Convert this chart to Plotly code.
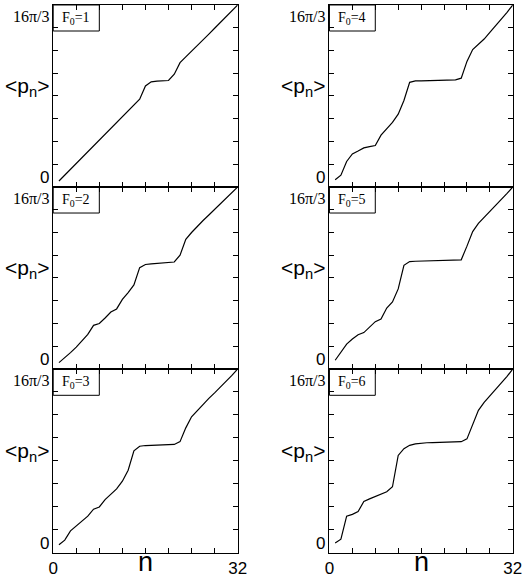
import numpy as np
import plotly.graph_objects as go
from plotly.subplots import make_subplots

# ---- data (values as fraction of 16*pi/3) ----
N = list(range(1, 33))
F0_LABELS = ["1", "2", "3", "4", "5", "6"]
P_F1 = [0.033, 0.065, 0.097, 0.128, 0.160, 0.192, 0.224, 0.253, 0.285, 0.317, 0.350, 0.385, 0.418, 0.450, 0.482, 0.555,
        0.578, 0.582, 0.583, 0.585, 0.620, 0.683, 0.715, 0.745, 0.776, 0.808, 0.840, 0.872, 0.904, 0.936, 0.968, 1.0]
P_F2 = [0.035, 0.060, 0.090, 0.120, 0.155, 0.190, 0.240, 0.250, 0.280, 0.313, 0.330, 0.382, 0.420, 0.462, 0.557, 0.574,
        0.578, 0.580, 0.582, 0.583, 0.588, 0.625, 0.712, 0.750, 0.785, 0.816, 0.846, 0.877, 0.908, 0.938, 0.969, 1.0]
P_F3 = [0.045, 0.070, 0.120, 0.145, 0.175, 0.200, 0.238, 0.250, 0.290, 0.320, 0.348, 0.390, 0.450, 0.555, 0.580, 0.584,
        0.585, 0.587, 0.588, 0.589, 0.590, 0.605, 0.680, 0.740, 0.775, 0.810, 0.840, 0.870, 0.900, 0.930, 0.965, 1.0]
P_F4 = [0.040, 0.065, 0.140, 0.182, 0.198, 0.215, 0.222, 0.228, 0.285, 0.322, 0.355, 0.400, 0.475, 0.575, 0.583, 0.583,
        0.584, 0.585, 0.586, 0.587, 0.588, 0.589, 0.598, 0.690, 0.755, 0.785, 0.813, 0.850, 0.885, 0.920, 0.960, 1.0]
P_F5 = [0.048, 0.093, 0.137, 0.165, 0.188, 0.200, 0.230, 0.260, 0.275, 0.335, 0.368, 0.440, 0.570, 0.590, 0.592, 0.593,
        0.594, 0.594, 0.595, 0.596, 0.596, 0.597, 0.600, 0.675, 0.755, 0.800, 0.832, 0.865, 0.900, 0.930, 0.965, 1.0]
P_F6 = [0.054, 0.075, 0.200, 0.210, 0.225, 0.280, 0.294, 0.307, 0.320, 0.333, 0.360, 0.530, 0.567, 0.585, 0.593, 0.597,
        0.599, 0.600, 0.601, 0.602, 0.603, 0.604, 0.605, 0.620, 0.700, 0.775, 0.818, 0.853, 0.890, 0.925, 0.960, 1.0]
SERIES = [P_F1, P_F2, P_F3, P_F4, P_F5, P_F6]
X_LABEL_TICKS = [0, 32]
X_STEP = 4
Y_MAX = 16 * np.pi / 3

fig = make_subplots(rows=3, cols=2)

XDOMS = [[0.0936, 0.4518], [0.630, 0.986]]
YDOMS = [[0.6776, 0.9914], [0.3638, 0.6776], [0.0466, 0.3638]]

SANS = "Liberation Sans, Arial, sans-serif"
SERIF = "Liberation Serif, Times New Roman, serif"

annotations = []
shapes = []
for i, (lab, vals) in enumerate(zip(F0_LABELS, SERIES)):
    col = i // 3
    row = i % 3
    idx = row * 2 + col + 1
    fig.add_trace(go.Scatter(x=N, y=[v * Y_MAX for v in vals], mode="lines",
                             line=dict(color="black", width=1.2), showlegend=False),
                  row=row + 1, col=col + 1)
    sfx = "" if idx == 1 else str(idx)
    bottom = row == 2
    fig.layout["xaxis" + sfx].update(
        domain=XDOMS[col], range=[0, 32], tickvals=X_LABEL_TICKS,
        showticklabels=bottom, ticks="inside", ticklen=5, tickcolor="black",
        minor=dict(dtick=X_STEP, tick0=0, ticks="inside", ticklen=5, tickcolor="black", showgrid=False),
        showline=True, linecolor="black", linewidth=1, mirror="ticks",
        showgrid=False, zeroline=False,
        tickfont=dict(family=SANS, size=17, color="black"))
    fig.layout["yaxis" + sfx].update(
        domain=YDOMS[row], range=[0, Y_MAX], tickvals=[k * Y_MAX / 8 for k in range(9)],
        showticklabels=False, ticks="inside", ticklen=5, tickcolor="black",
        showline=True, linecolor="black", linewidth=1, mirror="ticks",
        showgrid=False, zeroline=False)
    xd = "x" + sfx + " domain"
    yd = "y" + sfx + " domain"
    # label box
    shapes.append(dict(type="rect", xref=xd, yref=yd, x0=0, x1=0.25, y0=0.857, y1=1,
                       line=dict(color="black", width=1), fillcolor="rgba(0,0,0,0)"))
    annotations.append(dict(xref=xd, yref=yd, x=0.125, y=0.928, showarrow=False,
                            text="F<sub>0</sub>=" + lab, xanchor="center", yanchor="middle",
                            font=dict(family=SERIF, size=14, color="black")))
    # y tick labels
    annotations.append(dict(xref="paper", yref=yd, x=XDOMS[col][0], y=1, xshift=-1, yshift=-1,
                            showarrow=False, text="16π/3", xanchor="right", yanchor="top",
                            font=dict(family=SERIF, size=16, color="black")))
    annotations.append(dict(xref="paper", yref=yd, x=XDOMS[col][0], y=0, xshift=-2, yshift=-2,
                            showarrow=False, text="0", xanchor="right", yanchor="bottom",
                            font=dict(family=SANS, size=17, color="black")))
    # y axis title
    annotations.append(dict(xref="paper", yref=yd, x=XDOMS[col][0], y=0.55, xshift=-2,
                            showarrow=False, text="&lt;p<sub>n</sub>&gt;", xanchor="right",
                            yanchor="middle", font=dict(family=SANS, size=21, color="black")))
    if bottom:
        annotations.append(dict(xref="paper", yref="paper", x=(XDOMS[col][0] + XDOMS[col][1]) / 2,
                                y=0, yshift=1, showarrow=False, text="n", xanchor="center",
                                yanchor="bottom", font=dict(family=SANS, size=27, color="black")))

fig.update_layout(width=529, height=580, margin=dict(l=0, r=0, t=0, b=0),
                  paper_bgcolor="white", plot_bgcolor="white",
                  annotations=annotations, shapes=shapes)

fig.write_html("out.html")
